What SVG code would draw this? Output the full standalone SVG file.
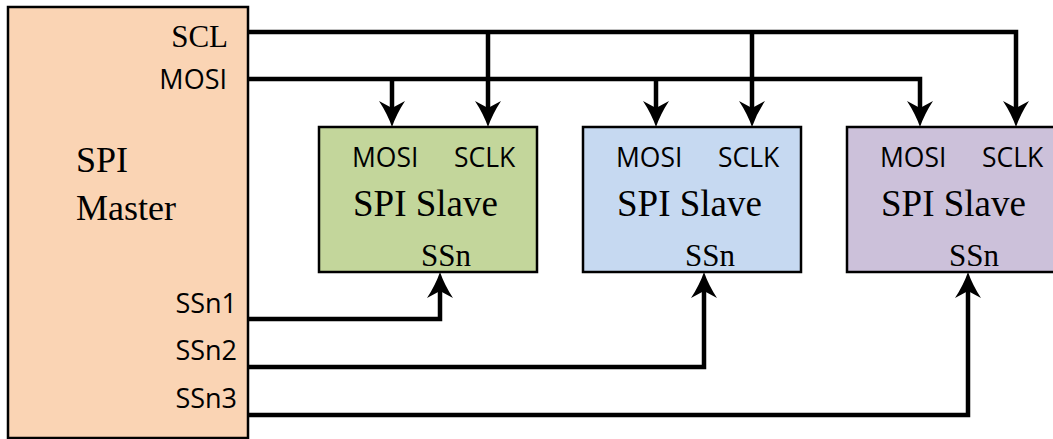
<svg xmlns="http://www.w3.org/2000/svg" width="1053" height="439" viewBox="0 0 1053 439">
  <style>
    .box { stroke: #000; stroke-width: 2.5; }
    .master { fill: #FAD4B4; }
    .s1 { fill: #C3D69B; }
    .s2 { fill: #C6D9F1; }
    .s3 { fill: #CCC1DA; }
    .wire { fill: none; stroke: #000; stroke-width: 4.5; stroke-linejoin: miter; }
    .arrow { marker-end: url(#head); }
    .serif { font-family: "Liberation Serif", "Times New Roman", serif; fill: #000; }
    .sans { font-family: "Open Sans", "Noto Sans", sans-serif; fill: #000; }
    .pin { font-size: 26.5px; }
    .mpin { font-size: 27px; text-anchor: end; }
    .title { font-size: 37px; }
    .ss { font-size: 31px; }
  </style>
  <defs>
    <!-- barbed arrowhead; the wire ends at the notch, tip lies 19px further on -->
    <marker id="head" markerUnits="userSpaceOnUse" viewBox="0 -14 27 28" refX="7" refY="0" markerWidth="27" markerHeight="28" orient="auto">
      <path d="M26,0 Q13,4.5 0,13 L7,0 L0,-13 Q13,-4.5 26,0 Z" fill="#000"/>
    </marker>
  </defs>

  <!-- master -->
  <g id="spi-master">
    <rect class="box master" x="8" y="7" width="240" height="431"/>
    <text class="serif" x="228" y="47" font-size="31" text-anchor="end">SCL</text>
    <text class="sans mpin" x="227" y="89">MOSI</text>
    <text class="serif" x="76" y="172" font-size="36">SPI</text>
    <text class="serif" x="76" y="220" font-size="36">Master</text>
    <text class="sans mpin" x="237" y="313">SSn1</text>
    <text class="sans mpin" x="237" y="360">SSn2</text>
    <text class="sans mpin" x="237" y="408">SSn3</text>
  </g>

  <!-- slaves -->
  <g id="spi-slave-1">
    <rect class="box s1" x="319" y="127" width="218" height="145"/>
    <text class="sans pin" x="352" y="167">MOSI</text>
    <text class="sans pin" x="454" y="167">SCLK</text>
    <text class="serif title" x="353" y="216">SPI Slave</text>
    <text class="serif ss" x="421" y="266">SSn</text>
  </g>
  <g id="spi-slave-2">
    <rect class="box s2" x="583" y="127" width="218" height="145"/>
    <text class="sans pin" x="616" y="167">MOSI</text>
    <text class="sans pin" x="718" y="167">SCLK</text>
    <text class="serif title" x="617" y="216">SPI Slave</text>
    <text class="serif ss" x="685" y="266">SSn</text>
  </g>
  <g id="spi-slave-3">
    <rect class="box s3" x="847" y="127" width="218" height="145"/>
    <text class="sans pin" x="880" y="167">MOSI</text>
    <text class="sans pin" x="982" y="167">SCLK</text>
    <text class="serif title" x="881" y="216">SPI Slave</text>
    <text class="serif ss" x="949" y="266">SSn</text>
  </g>

  <!-- buses and select lines -->
  <g id="connectors">
    <!-- SCL bus -->
    <path class="wire arrow" d="M248,32 H1016 V108"/>
    <path class="wire arrow" d="M488,32 V108"/>
    <path class="wire arrow" d="M752,32 V108"/>
    <!-- MOSI bus -->
    <path class="wire arrow" d="M248,79 H920 V108"/>
    <path class="wire arrow" d="M392,79 V108"/>
    <path class="wire arrow" d="M656,79 V108"/>
    <!-- slave selects -->
    <path class="wire arrow" d="M248,319 H440 V291"/>
    <path class="wire arrow" d="M248,367 H704 V291"/>
    <path class="wire arrow" d="M248,415 H968 V291"/>
  </g>
</svg>
